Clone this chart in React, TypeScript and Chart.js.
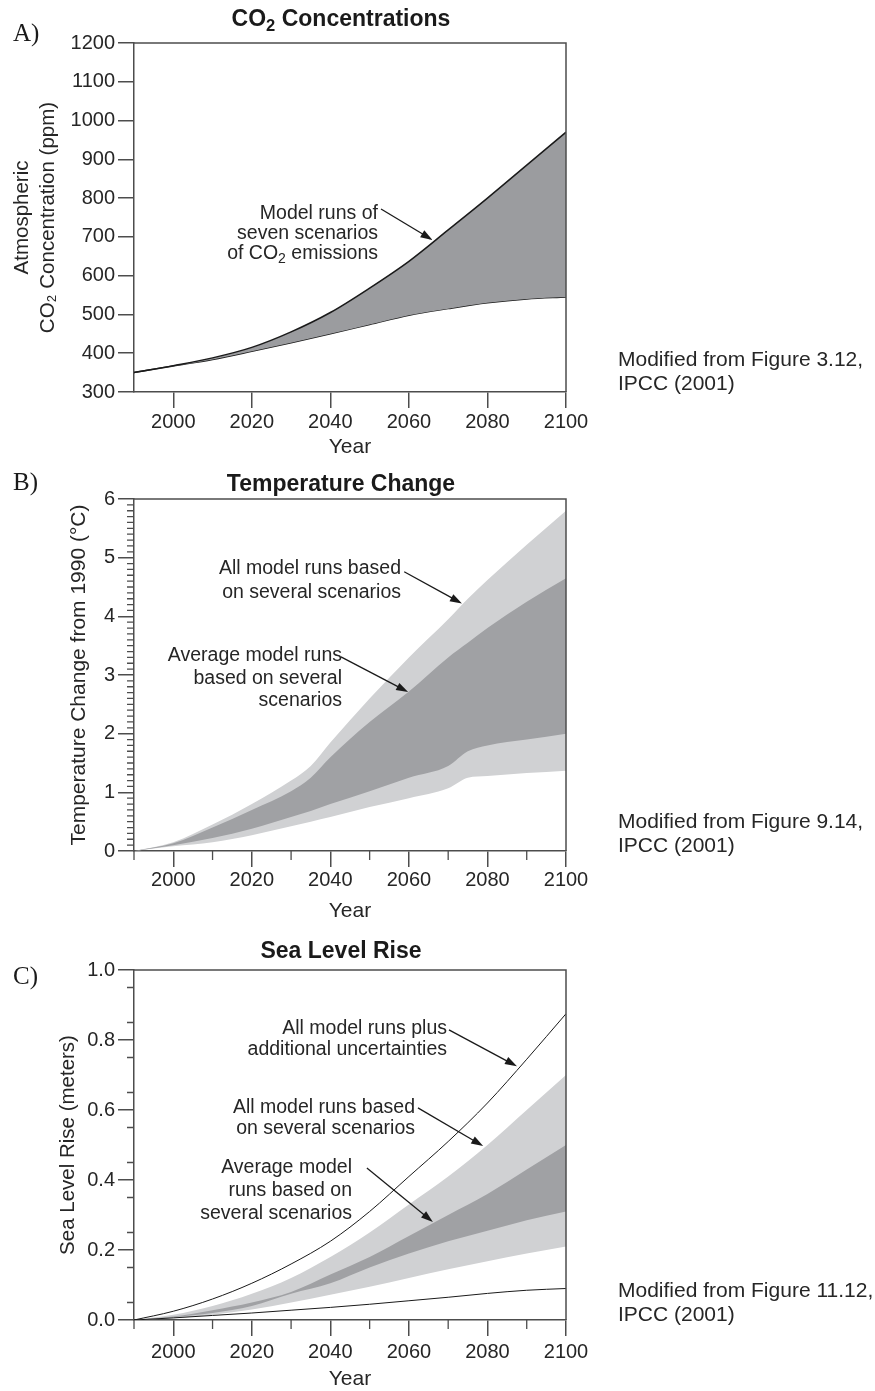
import React, { useEffect, useRef } from 'react';
import { Chart, registerables } from 'chart.js';

Chart.register(...registerables);

// ---------- data ----------
const co2Years = [1990, 2000, 2010, 2020, 2030, 2040, 2050, 2060, 2070, 2080, 2090, 2100];
const co2High = [350, 368, 388, 415, 455, 505, 568, 637, 718, 800, 885, 970];
const co2Low = [350, 367, 384, 405, 427, 450, 474, 498, 515, 530, 540, 545];
const co2Ticks = [300, 400, 500, 600, 700, 800, 900, 1000, 1100, 1200];

const tempYears = [1990, 2000, 2010, 2020, 2030, 2035, 2040, 2050, 2060, 2070, 2075, 2080, 2090, 2100];
const tempAllHigh = [0, 0.15, 0.45, 0.8, 1.2, 1.45, 1.85, 2.6, 3.3, 3.95, 4.3, 4.62, 5.22, 5.8];
const tempAvgHigh = [0, 0.13, 0.4, 0.7, 1.02, 1.25, 1.6, 2.2, 2.72, 3.3, 3.55, 3.8, 4.25, 4.65];
const tempAvgLow = [0, 0.1, 0.22, 0.38, 0.58, 0.68, 0.8, 1.02, 1.25, 1.45, 1.7, 1.8, 1.9, 2.0];
const tempAllLow = [0, 0.08, 0.15, 0.27, 0.42, 0.5, 0.58, 0.75, 0.9, 1.07, 1.25, 1.28, 1.33, 1.37];
const tempTicks = [0, 1, 2, 3, 4, 5, 6];

const seaYears = [1990, 2000, 2010, 2020, 2030, 2040, 2050, 2060, 2070, 2080, 2090, 2100];
const seaPlusHigh = [0, 0.025, 0.06, 0.105, 0.16, 0.225, 0.31, 0.41, 0.51, 0.62, 0.745, 0.875];
const seaPlusLow = [0, 0.006, 0.013, 0.02, 0.028, 0.036, 0.045, 0.055, 0.065, 0.076, 0.085, 0.09];
const seaAllHigh = [0, 0.015, 0.04, 0.075, 0.12, 0.18, 0.25, 0.33, 0.41, 0.5, 0.6, 0.7];
const seaAvgHigh = [0, 0.01, 0.028, 0.05, 0.08, 0.13, 0.18, 0.24, 0.3, 0.36, 0.43, 0.5];
const seaAvgLow = [0, 0.008, 0.02, 0.04, 0.075, 0.105, 0.15, 0.19, 0.225, 0.255, 0.285, 0.31];
const seaAllLow = [0, 0.005, 0.015, 0.03, 0.05, 0.072, 0.095, 0.12, 0.145, 0.168, 0.19, 0.21];
const seaTicks = [0, 0.2, 0.4, 0.6, 0.8, 1.0];

const yearTicks = [2000, 2020, 2040, 2060, 2080, 2100];
const yearMinorTicks = [1990, 2010, 2030, 2050, 2070, 2090];

// annotation arrows: [fromYear, fromValue] -> [toYear, toValue]
const co2Arrows = [{ from: [2052.9, 772], to: [2066, 692] }];
const tempArrows = [
  { from: [2058.8, 4.76], to: [2073.5, 4.22] },
  { from: [2042.7, 3.31], to: [2059.8, 2.71] },
];
const seaArrows = [
  { from: [2070.2, 0.829], to: [2087.5, 0.725] },
  { from: [2062.3, 0.606], to: [2078.9, 0.497] },
  { from: [2049.3, 0.434], to: [2066.1, 0.28] },
];

// ---------- styles ----------
const FONT = "'Liberation Sans', Arial, Helvetica, sans-serif";
const SERIF = "'Liberation Serif', 'Times New Roman', serif";
const TEXT = '#262626';
const AXIS = '#4d4d4d';
const LIGHT = 'rgb(208,209,211)';
const DARK = 'rgb(160,161,164)';
const CO2_FILL = 'rgb(155,156,159)';
const LINE = '#1a1a1a';

const pts = (xs: number[], ys: number[]) => xs.map((x, i) => ({ x, y: ys[i] }));

function makeDecor(opts: { yMinor: number[]; xMinor: number[]; arrows: { from: number[]; to: number[] }[] }) {
  return {
    id: 'decor',
    afterDraw(chart: any) {
      const { ctx, chartArea: ca, scales } = chart;
      const x = scales.x;
      const y = scales.y;
      ctx.save();
      ctx.strokeStyle = AXIS;
      ctx.lineWidth = 1.5;
      ctx.beginPath();
      ctx.moveTo(ca.left, ca.top);
      ctx.lineTo(ca.right, ca.top);
      ctx.lineTo(ca.right, ca.bottom);
      ctx.stroke();
      ctx.lineWidth = 1.3;
      ctx.beginPath();
      for (const v of opts.yMinor) {
        const p = y.getPixelForValue(v);
        ctx.moveTo(ca.left - 7, p);
        ctx.lineTo(ca.left, p);
      }
      for (const v of opts.xMinor) {
        const p = x.getPixelForValue(v);
        ctx.moveTo(p, ca.bottom);
        ctx.lineTo(p, ca.bottom + 9);
      }
      ctx.stroke();
      ctx.strokeStyle = LINE;
      ctx.fillStyle = LINE;
      ctx.lineWidth = 1.3;
      for (const a of opts.arrows) {
        const x1 = x.getPixelForValue(a.from[0]);
        const y1 = y.getPixelForValue(a.from[1]);
        const x2 = x.getPixelForValue(a.to[0]);
        const y2 = y.getPixelForValue(a.to[1]);
        const ang = Math.atan2(y2 - y1, x2 - x1);
        const hl = 12;
        const hw = 4;
        const bx = x2 - hl * Math.cos(ang);
        const by = y2 - hl * Math.sin(ang);
        ctx.beginPath();
        ctx.moveTo(x1, y1);
        ctx.lineTo(bx + Math.cos(ang), by + Math.sin(ang));
        ctx.stroke();
        ctx.beginPath();
        ctx.moveTo(x2, y2);
        ctx.lineTo(bx + hw * Math.sin(ang), by - hw * Math.cos(ang));
        ctx.lineTo(bx - hw * Math.sin(ang), by + hw * Math.cos(ang));
        ctx.closePath();
        ctx.fill();
      }
      ctx.restore();
    },
  };
}

function xScale(H: number, labelPad: number) {
  return {
    type: 'linear',
    min: 1990,
    max: 2100,
    afterFit: (s: any) => {
      s.height = H;
    },
    afterBuildTicks: (s: any) => {
      s.ticks = yearTicks.map((v) => ({ value: v }));
    },
    ticks: {
      callback: (v: any) => String(v),
      color: TEXT,
      font: { family: FONT, size: 20 },
      padding: labelPad,
      autoSkip: false,
      maxRotation: 0,
    },
    grid: { display: true, drawOnChartArea: false, drawTicks: true, tickLength: 16, color: AXIS, lineWidth: 1.5 },
    border: { display: true, color: AXIS, width: 1.5 },
    title: { display: true, text: 'Year', color: TEXT, font: { family: FONT, size: 21, lineHeight: 1 }, padding: 0 },
  };
}

function yScale(min: number, max: number, ticks: number[], fmt: (v: number) => string, text: any, padTop: number, size: number) {
  return {
    type: 'linear',
    min,
    max,
    afterFit: (s: any) => {
      s.width = 134;
    },
    afterBuildTicks: (s: any) => {
      s.ticks = ticks.map((v) => ({ value: v }));
    },
    ticks: { callback: (v: any) => fmt(Number(v)), color: TEXT, font: { family: FONT, size: 20 }, padding: 3 },
    grid: { display: true, drawOnChartArea: false, drawTicks: true, tickLength: 16, color: AXIS, lineWidth: 1.5 },
    border: { display: true, color: AXIS, width: 1.5 },
    title: {
      display: true,
      text,
      color: TEXT,
      font: { family: FONT, size, lineHeight: 1.25 },
      padding: { top: padTop, bottom: 0 },
    },
  };
}

const line = (data: any, color: string, width: number, fill: any, bg: string) => ({
  data,
  borderColor: color,
  borderWidth: width,
  backgroundColor: bg,
  fill,
  pointRadius: 0,
  cubicInterpolationMode: 'monotone',
});

function baseOptions(padding: any, x: any, y: any) {
  return {
    responsive: false,
    animation: false,
    events: [],
    layout: { padding },
    plugins: { legend: { display: false }, tooltip: { enabled: false } },
    scales: { x, y },
  };
}

function co2Config() {
  return {
    type: 'line',
    data: {
      datasets: [
        line(pts(co2Years, co2High), LINE, 1.5, '+1', CO2_FILL),
        line(pts(co2Years, co2Low), LINE, 1.5, false, 'transparent'),
      ],
    },
    options: baseOptions(
      { top: 43, left: 0, right: 309, bottom: 7 },
      xScale(66, 2),
      yScale(300, 1200, co2Ticks, (v) => String(v), ['Atmospheric', 'CO\u2082 Concentration (ppm)'], 10, 20.5)
    ),
    plugins: [makeDecor({ yMinor: [], xMinor: [], arrows: co2Arrows })],
  };
}

function tempConfig() {
  const minor: number[] = [];
  for (let i = 0; i <= 60; i++) if (i % 10 !== 0) minor.push(i / 10);
  return {
    type: 'line',
    data: {
      datasets: [
        line(pts(tempYears, tempAvgHigh), 'transparent', 0, '+1', DARK),
        line(pts(tempYears, tempAvgLow), 'transparent', 0, false, 'transparent'),
        line(pts(tempYears, tempAllHigh), 'transparent', 0, '+1', LIGHT),
        line(pts(tempYears, tempAllLow), 'transparent', 0, false, 'transparent'),
      ],
    },
    options: baseOptions(
      { top: 34, left: 0, right: 309, bottom: 8 },
      xScale(71, 1),
      yScale(0, 6, tempTicks, (v) => String(v), 'Temperature Change from 1990 (\u00B0C)', 66, 21)
    ),
    plugins: [makeDecor({ yMinor: minor, xMinor: yearMinorTicks, arrows: tempArrows })],
  };
}

function seaConfig() {
  const minor: number[] = [];
  for (let i = 1; i < 20; i += 2) minor.push(i / 20);
  return {
    type: 'line',
    data: {
      datasets: [
        line(pts(seaYears, seaPlusHigh), LINE, 1, false, 'transparent'),
        line(pts(seaYears, seaPlusLow), LINE, 1, false, 'transparent'),
        line(pts(seaYears, seaAvgHigh), 'transparent', 0, '+1', DARK),
        line(pts(seaYears, seaAvgLow), 'transparent', 0, false, 'transparent'),
        line(pts(seaYears, seaAllHigh), 'transparent', 0, '+1', LIGHT),
        line(pts(seaYears, seaAllLow), 'transparent', 0, false, 'transparent'),
      ],
    },
    options: baseOptions(
      { top: 44, left: 0, right: 309, bottom: 1 },
      xScale(70, 4),
      yScale(0, 1, seaTicks, (v) => v.toFixed(1), 'Sea Level Rise (meters)', 56, 20.5)
    ),
    plugins: [makeDecor({ yMinor: minor, xMinor: yearMinorTicks, arrows: seaArrows })],
  };
}

function Panel({ top, height, config }: { top: number; height: number; config: () => any }) {
  const ref = useRef<HTMLCanvasElement>(null);
  useEffect(() => {
    const chart = new Chart(ref.current as HTMLCanvasElement, config());
    return () => chart.destroy();
  }, []);
  return (
    <canvas
      ref={ref}
      width={875}
      height={height}
      style={{ position: 'absolute', left: 0, top, width: 875, height }}
    />
  );
}

const sub = (t: string) => (
  <sub style={{ fontSize: '0.72em', verticalAlign: '-0.28em', lineHeight: 0 }}>{t}</sub>
);

function Block({ right, top, lh, size, lines }: { right: number; top: number; lh: number; size: number; lines: any[] }) {
  return (
    <div
      style={{
        position: 'absolute',
        left: right - 400,
        top,
        width: 400,
        textAlign: 'right',
        fontFamily: FONT,
        fontSize: size,
        lineHeight: lh + 'px',
        color: TEXT,
        whiteSpace: 'nowrap',
      }}
    >
      {lines.map((l, i) => (
        <div key={i}>{l}</div>
      ))}
    </div>
  );
}

function Title({ cy, children }: { cy: number; children: any }) {
  return (
    <div
      style={{
        position: 'absolute',
        left: 141,
        width: 400,
        top: cy - 14,
        textAlign: 'center',
        fontFamily: FONT,
        fontWeight: 'bold',
        fontSize: 23,
        lineHeight: '28px',
        color: '#1a1a1a',
      }}
    >
      {children}
    </div>
  );
}

function PanelLabel({ cy, text }: { cy: number; text: string }) {
  return (
    <div
      style={{
        position: 'absolute',
        left: 13,
        top: cy - 13,
        fontFamily: SERIF,
        fontSize: 25,
        lineHeight: '25px',
        color: '#1a1a1a',
      }}
    >
      {text}
    </div>
  );
}

function Note({ top, fig }: { top: number; fig: string }) {
  return (
    <div
      style={{
        position: 'absolute',
        left: 618,
        top,
        fontFamily: FONT,
        fontSize: 21,
        lineHeight: '24px',
        color: TEXT,
        whiteSpace: 'nowrap',
      }}
    >
      <div>{'Modified from Figure ' + fig + ','}</div>
      <div>IPCC (2001)</div>
    </div>
  );
}

export default function App() {
  return (
    <div style={{ position: 'absolute', left: 0, top: 0, width: 875, height: 1391, background: '#fff', overflow: 'hidden' }}>
      <Panel top={0} height={465} config={co2Config} />
      <Panel top={465} height={465} config={tempConfig} />
      <Panel top={926} height={465} config={seaConfig} />

      <PanelLabel cy={33} text="A)" />
      <PanelLabel cy={482} text="B)" />
      <PanelLabel cy={976} text="C)" />

      <Title cy={18}>
        CO{sub('2')} Concentrations
      </Title>
      <Title cy={483}>Temperature Change</Title>
      <Title cy={950}>Sea Level Rise</Title>

      <Block
        right={378}
        top={202}
        lh={20}
        size={19.5}
        lines={['Model runs of', 'seven scenarios', <span>of CO{sub('2')} emissions</span>]}
      />
      <Block right={401} top={555} lh={24} size={19.5} lines={['All model runs based', 'on several scenarios']} />
      <Block right={342} top={643} lh={22.5} size={19.5} lines={['Average model runs', 'based on several', 'scenarios']} />
      <Block right={447} top={1017} lh={20.5} size={19.5} lines={['All model runs plus', 'additional uncertainties']} />
      <Block right={415} top={1096} lh={21} size={19.5} lines={['All model runs based', 'on several scenarios']} />
      <Block right={352} top={1155} lh={23} size={19.5} lines={['Average model', 'runs based on', 'several scenarios']} />

      <Note top={347} fig="3.12" />
      <Note top={809} fig="9.14" />
      <Note top={1278} fig="11.12" />
    </div>
  );
}
